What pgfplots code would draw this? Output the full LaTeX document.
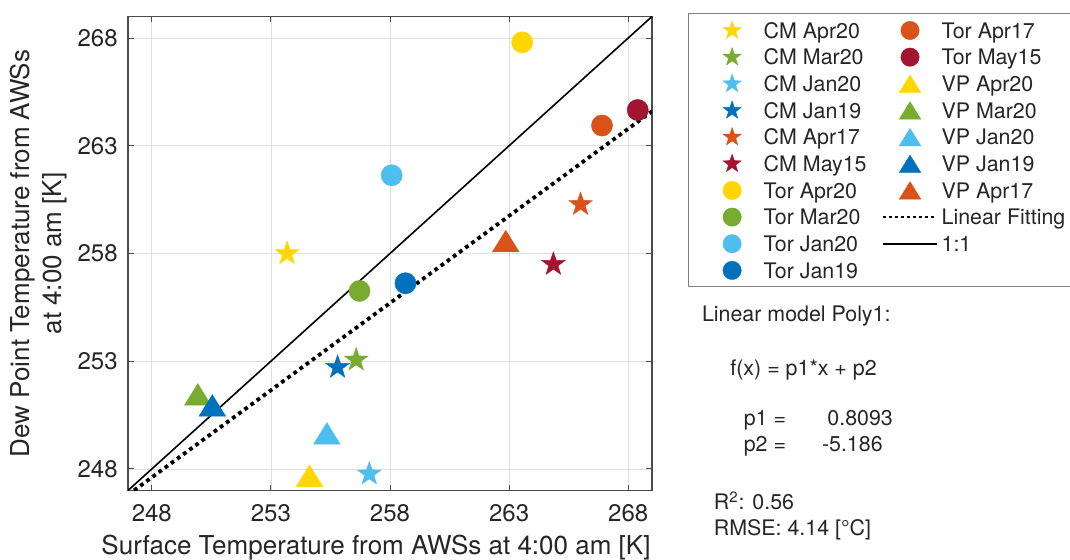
\documentclass[border=0pt]{standalone}
\usepackage{fontspec}
\setmainfont{TeX Gyre Heros}
\usepackage{pgfplots}
\pgfplotsset{compat=1.18}
\definecolor{cyel}{RGB}{255,214,0}
\definecolor{cgrn}{RGB}{119,172,48}
\definecolor{clbl}{RGB}{77,190,238}
\definecolor{cblu}{RGB}{0,114,189}
\definecolor{corg}{RGB}{217,83,25}
\definecolor{cred}{RGB}{162,20,47}
\definecolor{txt}{RGB}{38,38,38}
\pgfdeclareplotmark{pstar}{%
 \pgfpathmoveto{\pgfpointpolar{90}{\pgfplotmarksize}}%
 \pgfpathlineto{\pgfpointpolar{126}{0.40\pgfplotmarksize}}%
 \pgfpathlineto{\pgfpointpolar{162}{\pgfplotmarksize}}%
 \pgfpathlineto{\pgfpointpolar{198}{0.40\pgfplotmarksize}}%
 \pgfpathlineto{\pgfpointpolar{234}{\pgfplotmarksize}}%
 \pgfpathlineto{\pgfpointpolar{270}{0.40\pgfplotmarksize}}%
 \pgfpathlineto{\pgfpointpolar{306}{\pgfplotmarksize}}%
 \pgfpathlineto{\pgfpointpolar{342}{0.40\pgfplotmarksize}}%
 \pgfpathlineto{\pgfpointpolar{18}{\pgfplotmarksize}}%
 \pgfpathlineto{\pgfpointpolar{54}{0.40\pgfplotmarksize}}%
 \pgfpathclose
 \pgfusepathqfillstroke
}
\pgfdeclareplotmark{btri}{%
 \pgfpathmoveto{\pgfpoint{0pt}{0.81\pgfplotmarksize}}%
 \pgfpathlineto{\pgfpoint{-\pgfplotmarksize}{-0.81\pgfplotmarksize}}%
 \pgfpathlineto{\pgfpoint{\pgfplotmarksize}{-0.81\pgfplotmarksize}}%
 \pgfpathclose
 \pgfusepathqfillstroke
}
\pgfplotsset{
 sstar/.style={only marks, mark=pstar, mark size=6.2pt, mark options={draw=#1, fill=#1, line width=0.2pt}},
 scirc/.style={only marks, mark=*, mark size=5.3pt, mark options={draw=#1, fill=#1, line width=0.2pt}},
 stri/.style={only marks, mark=btri, mark size=6.65pt, mark options={draw=#1, fill=#1, line width=0.2pt}},
 lgm/.style={legend image code/.code={\path[draw=none,fill=none] (-21.7pt,-5.4pt) rectangle (15.8pt,5.4pt); \draw[##1] plot coordinates {(0pt,0pt)};}},
 lgl/.style={legend image code/.code={\path[draw=none,fill=none] (-21.7pt,-5.4pt) rectangle (15.8pt,5.4pt); \draw[##1] (-13.4pt,0pt) -- (13.4pt,0pt);}},
 lstar/.style={lgm, only marks, mark=pstar, mark size=4.8pt, mark options={draw=#1, fill=#1, line width=0.2pt}},
 lcirc/.style={lgm, only marks, mark=*, mark size=4.6pt, mark options={draw=#1, fill=#1, line width=0.2pt}},
 ltri/.style={lgm, only marks, mark=btri, mark size=5.4pt, mark options={draw=#1, fill=#1, line width=0.2pt}},
}
\begin{document}
\begin{tikzpicture}
\useasboundingbox (0,0) rectangle (535pt,280pt);
\begin{axis}[
 at={(64pt,34.75pt)}, anchor=south west,
 scale only axis, width=262pt, height=237pt,
 xmin=247, xmax=269, ymin=247, ymax=269,
 xtick={248,253,258,263,268}, ytick={248,253,258,263,268},
 grid=major, major grid style={black!13, line width=0.4pt},
 axis line style={draw=black!70, line width=0.6pt},
 tick style={black!70, line width=0.5pt}, major tick length=2.8pt,
 tick align=inside,
 /pgf/number format/assume math mode=true,
 /pgf/number format/1000 sep={},
 ticklabel style={font=\fontsize{12}{14}\selectfont, text=txt},
 xticklabel style={inner sep=0pt, anchor=north}, xticklabel shift=7pt,
 yticklabel style={inner sep=0pt, anchor=east}, yticklabel shift=5pt,
 xlabel={Surface Temperature from AWSs at 4:00 am [K]},
 ylabel={Dew Point Temperature from AWSs\\at 4:00 am [K]},
 label style={font=\fontsize{13}{15.9}\selectfont, text=txt},
 xlabel style={at={(axis description cs:0.4733,-0.1213)}, anchor=center},
 ylabel style={at={(axis description cs:-0.170,0.5)}, anchor=center, align=center},
 legend columns=2,
 legend cell align=left,
 legend style={at={(axis description cs:1.0693,1.0068)}, anchor=north west,
   draw=none, fill=none, inner xsep=0pt, inner ysep=3pt,
   font=\fontsize{10.7}{12.5}\selectfont, text=txt,
   nodes={inner xsep=0pt, inner ysep=0pt, text height=7.7pt, text depth=0pt},
   /tikz/column sep=0pt, /tikz/row sep=2.53pt},
]
% CM (stars)
\addplot[forget plot, sstar=cyel] coordinates {(253.68,258.00)};
\addplot[forget plot, sstar=cgrn] coordinates {(256.58,253.06)};
\addplot[forget plot, sstar=clbl] coordinates {(257.13,247.77)};
\addplot[forget plot, sstar=cblu] coordinates {(255.80,252.72)};
\addplot[forget plot, sstar=corg] coordinates {(266.00,260.28)};
\addplot[forget plot, sstar=cred] coordinates {(264.86,257.50)};
% Tor (circles)
\addplot[forget plot, scirc=cyel] coordinates {(263.55,267.80)};
\addplot[forget plot, scirc=cgrn] coordinates {(256.72,256.26)};
\addplot[forget plot, scirc=clbl] coordinates {(258.07,261.63)};
\addplot[forget plot, scirc=cblu] coordinates {(258.65,256.62)};
\addplot[forget plot, scirc=corg] coordinates {(266.90,263.94)};
\addplot[forget plot, scirc=cred] coordinates {(268.40,264.66)};
% VP (triangles)
\addplot[forget plot, stri=cyel] coordinates {(254.62,247.68)};
\addplot[forget plot, stri=cgrn] coordinates {(249.93,251.46)};
\addplot[forget plot, stri=clbl] coordinates {(255.35,249.65)};
\addplot[forget plot, stri=cblu] coordinates {(250.54,250.95)};
\addplot[forget plot, stri=corg] coordinates {(262.86,258.58)};
% lines
\addplot[forget plot, black, line width=1.9pt, dash pattern=on 1.9pt off 1.9pt] coordinates {(247,246.80) (269,264.60)};
\addplot[forget plot, black, line width=0.8pt] coordinates {(247,247) (269,269)};
% legend (row-major order to mimic column-major layout)
\addlegendimage{lstar=cyel}\addlegendentry{CM Apr20}
\addlegendimage{lcirc=corg}\addlegendentry{Tor Apr17}
\addlegendimage{lstar=cgrn}\addlegendentry{CM Mar20}
\addlegendimage{lcirc=cred}\addlegendentry{Tor May15}
\addlegendimage{lstar=clbl}\addlegendentry{CM Jan20}
\addlegendimage{ltri=cyel}\addlegendentry{VP Apr20}
\addlegendimage{lstar=cblu}\addlegendentry{CM Jan19}
\addlegendimage{ltri=cgrn}\addlegendentry{VP Mar20}
\addlegendimage{lstar=corg}\addlegendentry{CM Apr17}
\addlegendimage{ltri=clbl}\addlegendentry{VP Jan20}
\addlegendimage{lstar=cred}\addlegendentry{CM May15}
\addlegendimage{ltri=cblu}\addlegendentry{VP Jan19}
\addlegendimage{lcirc=cyel}\addlegendentry{Tor Apr20}
\addlegendimage{ltri=corg}\addlegendentry{VP Apr17}
\addlegendimage{lcirc=cgrn}\addlegendentry{Tor Mar20}
\addlegendimage{lgl, black, line width=1.4pt, dash pattern=on 1.4pt off 1.6pt}\addlegendentry{Linear Fitting}
\addlegendimage{lcirc=clbl}\addlegendentry{Tor Jan20}
\addlegendimage{lgl, black, line width=0.8pt}\addlegendentry{1:1}
\addlegendimage{lcirc=cblu}\addlegendentry{Tor Jan19}
\end{axis}
% legend frame, open on the right where the reference is cut off
\draw[black!50, line width=0.5pt] (540pt,273.35pt) -- (344.15pt,273.35pt) -- (344.15pt,136.65pt) -- (540pt,136.65pt);
\begin{scope}[every node/.style={anchor=base west, inner sep=0pt, font=\fontsize{10.7}{12.5}\selectfont, text=txt}]
\node at (350.8pt,119pt) {Linear model Poly1:};
\node at (365pt,92pt) {f(x) = p1*x + p2};
\node at (371.7pt,67pt) {p1 =};
\node at (413.5pt,67pt) {0.8093};
\node at (371.7pt,54pt) {p2 =};
\node at (410.8pt,54pt) {-5.186};
\node at (356.7pt,25pt) {R\textsuperscript{2}: 0.56};
\node at (356.7pt,12pt) {RMSE: 4.14 [°C]};
\end{scope}
\end{tikzpicture}
\end{document}
